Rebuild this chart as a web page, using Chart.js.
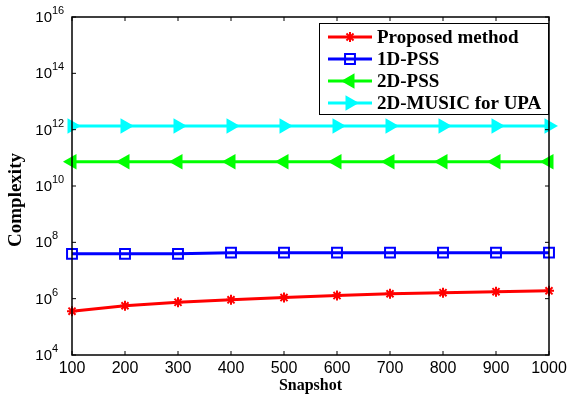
<!DOCTYPE html>
<html>
<head>
<meta charset="utf-8">
<script src="https://cdn.jsdelivr.net/npm/chart.js@4.4.0/dist/chart.umd.min.js"></script>
<style>
  html, body { margin: 0; padding: 0; background: #fff; }
  #wrap { width: 569px; height: 397px; }
</style>
</head>
<body>
<div id="wrap"><canvas id="cplx" width="569" height="397"></canvas></div>
<script>
// data
const snapshots = [100, 200, 300, 400, 500, 600, 700, 800, 900, 1000];
const proposed = [3.6e5, 5.6e5, 7.4e5, 9.1e5, 1.09e6, 1.29e6, 1.5e6, 1.63e6, 1.77e6, 1.9e6];
const pss1d = [3.9e7, 3.9e7, 3.9e7, 4.3e7, 4.3e7, 4.3e7, 4.3e7, 4.3e7, 4.3e7, 4.3e7];
const pss2d = [7.3e10, 7.3e10, 7.3e10, 7.3e10, 7.3e10, 7.3e10, 7.3e10, 7.3e10, 7.3e10, 7.3e10];
const music = [1.35e12, 1.35e12, 1.35e12, 1.35e12, 1.35e12, 1.35e12, 1.35e12, 1.35e12, 1.35e12, 1.35e12];
const yExps = [4, 6, 8, 10, 12, 14, 16];
const seriesNames = ["Proposed method", "1D-PSS", "2D-PSS", "2D-MUSIC for UPA"];

const serif = "'Liberation Serif', 'Times New Roman', serif";
const sans = "'Liberation Sans', Arial, sans-serif";

function pts(vals) {
  return snapshots.map((s, i) => ({ x: s, y: vals[i] }));
}

const styles = [
  { color: "#ff0000", pointStyle: "star", radius: 5, rot: 0, fill: "#ff0000" },
  { color: "#0000ff", pointStyle: "rect", radius: 7, rot: 0, fill: "rgba(0,0,0,0)" },
  { color: "#00ff00", pointStyle: "triangle", radius: 7, rot: 270, fill: "#00ff00" },
  { color: "#00ffff", pointStyle: "triangle", radius: 7, rot: 90, fill: "#00ffff" }
];

const allVals = [proposed, pss1d, pss2d, music];

const datasets = allVals.map((v, i) => ({
  label: seriesNames[i],
  data: pts(v),
  borderColor: styles[i].color,
  backgroundColor: styles[i].fill,
  borderWidth: 3,
  pointStyle: styles[i].pointStyle,
  pointRadius: styles[i].radius,
  pointRotation: styles[i].rot,
  pointBorderColor: styles[i].color,
  pointBackgroundColor: styles[i].fill,
  pointBorderWidth: 2,
  tension: 0,
  clip: false
}));

const framePlugin = {
  id: "frame",
  afterDraw(chart) {
    const ctx = chart.ctx;
    const a = chart.chartArea;
    const xs = chart.scales.x, ys = chart.scales.y;
    ctx.save();
    ctx.strokeStyle = "#000";
    ctx.lineWidth = 1.5;
    ctx.strokeRect(a.left, a.top, a.right - a.left, a.bottom - a.top);

    // tick marks, inward on all sides
    ctx.lineWidth = 1;
    ctx.beginPath();
    snapshots.forEach(s => {
      const px = xs.getPixelForValue(s);
      ctx.moveTo(px, a.bottom); ctx.lineTo(px, a.bottom - 4);
      ctx.moveTo(px, a.top); ctx.lineTo(px, a.top + 4);
    });
    yExps.forEach(e => {
      const py = ys.getPixelForValue(Math.pow(10, e));
      ctx.moveTo(a.left, py); ctx.lineTo(a.left + 4, py);
      ctx.moveTo(a.right, py); ctx.lineTo(a.right - 4, py);
    });
    ctx.stroke();

    // y tick labels 10^n
    ctx.fillStyle = "#000";
    ctx.textBaseline = "middle";
    yExps.forEach(e => {
      const py = ys.getPixelForValue(Math.pow(10, e));
      ctx.font = "15px " + sans;
      ctx.textAlign = "right";
      ctx.fillText("10", 52, py + 1);
      ctx.font = "11px " + sans;
      ctx.textAlign = "left";
      ctx.fillText(String(e), 52, py - 6);
    });

    // axis titles
    ctx.font = "bold 16px " + serif;
    ctx.textAlign = "center";
    ctx.fillText("Snapshot", (a.left + a.right) / 2, 386);
    ctx.save();
    ctx.translate(16, 200);
    ctx.rotate(-Math.PI / 2);
    ctx.font = "bold 19px " + serif;
    ctx.fillText("Complexity", 0, 0);
    ctx.restore();

    // legend box
    const lx = 319, ly = 23, lw = 229, lh = 91;
    ctx.fillStyle = "#fff";
    ctx.fillRect(lx, ly, lw, lh);
    ctx.strokeStyle = "#000";
    ctx.lineWidth = 1;
    ctx.strokeRect(lx + 0.5, ly + 0.5, lw, lh);
    seriesNames.forEach((name, i) => {
      const y = 37 + i * 22;
      const st = styles[i];
      ctx.strokeStyle = st.color;
      ctx.lineWidth = 3;
      ctx.beginPath();
      ctx.moveTo(328, y); ctx.lineTo(372, y);
      ctx.stroke();
      ctx.fillStyle = st.fill;
      ctx.lineWidth = 2;
      Chart.helpers.drawPoint(ctx, {
        pointStyle: st.pointStyle, radius: st.radius, rotation: st.rot, borderWidth: 2
      }, 350, y);
      ctx.fillStyle = "#000";
      ctx.font = "bold 19px " + serif;
      ctx.textAlign = "left";
      ctx.fillText(name, 377, y + 1);
    });
    ctx.restore();
  }
};

const chart = new Chart(document.getElementById("cplx"), {
  type: "line",
  data: { datasets: datasets },
  options: {
    responsive: false,
    animation: false,
    layout: { padding: { top: 17, right: 20, left: 0, bottom: 0 } },
    plugins: { legend: { display: false }, tooltip: { enabled: false } },
    scales: {
      x: {
        type: "linear",
        min: 100,
        max: 1000,
        grid: { display: false, drawTicks: false },
        border: { display: false },
        ticks: {
          stepSize: 100,
          color: "#000",
          font: { family: sans, size: 16 },
          padding: 4,
          maxRotation: 0,
          autoSkip: false,
          callback: v => String(v)
        },
        afterFit(s) { s.height = 42; s.paddingLeft = 0; s.paddingRight = 0; }
      },
      y: {
        type: "logarithmic",
        min: 1e4,
        max: 1e16,
        grid: { display: false, drawTicks: false },
        border: { display: false },
        ticks: { display: false },
        afterFit(s) { s.width = 72; }
      }
    }
  },
  plugins: [framePlugin]
});
</script>
</body>
</html>
